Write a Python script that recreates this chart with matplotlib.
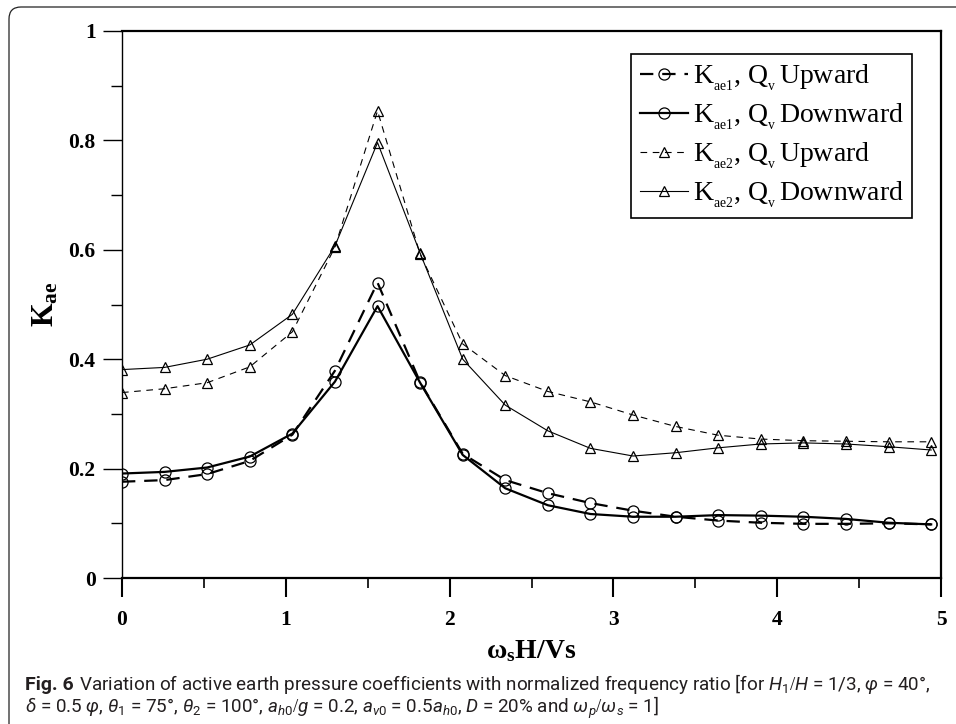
import matplotlib
matplotlib.use("Agg")
import matplotlib.pyplot as plt
from matplotlib.patches import FancyBboxPatch
from matplotlib.transforms import IdentityTransform

# data
freq_ratio = [0, 0.26, 0.52, 0.78, 1.04, 1.30, 1.56, 1.82, 2.08, 2.34,
              2.60, 2.86, 3.12, 3.38, 3.64, 3.90, 4.16, 4.42, 4.68, 4.94]
kae1_up = [0.176, 0.179, 0.190, 0.214, 0.262, 0.379, 0.540, 0.358, 0.227, 0.179,
           0.155, 0.137, 0.123, 0.112, 0.105, 0.101, 0.099, 0.099, 0.100, 0.098]
kae1_down = [0.191, 0.194, 0.202, 0.222, 0.264, 0.359, 0.497, 0.357, 0.225, 0.164,
             0.133, 0.117, 0.112, 0.112, 0.115, 0.114, 0.112, 0.108, 0.101, 0.098]
kae2_up = [0.339, 0.346, 0.357, 0.386, 0.450, 0.605, 0.854, 0.592, 0.428, 0.370,
           0.341, 0.322, 0.298, 0.277, 0.261, 0.254, 0.251, 0.250, 0.249, 0.249]
kae2_down = [0.381, 0.385, 0.400, 0.426, 0.482, 0.607, 0.796, 0.594, 0.400, 0.316,
             0.269, 0.237, 0.223, 0.229, 0.238, 0.245, 0.247, 0.245, 0.240, 0.234]

x_ticks = [0, 1, 2, 3, 4, 5]
y_ticks = [0, 0.2, 0.4, 0.6, 0.8, 1.0]
y_tick_labels = ["0", "0.2", "0.4", "0.6", "0.8", "1"]

# small subscripts, as in the original legend
series_labels = [
    r"$\mathrm{K}_{{}_{\mathrm{ae1}}}$, $\mathrm{Q}_{{}_{\mathrm{v}}}\!$ Upward",
    r"$\mathrm{K}_{{}_{\mathrm{ae1}}}$, $\mathrm{Q}_{{}_{\mathrm{v}}}\!$ Downward",
    r"$\mathrm{K}_{{}_{\mathrm{ae2}}}$, $\mathrm{Q}_{{}_{\mathrm{v}}}\!$ Upward",
    r"$\mathrm{K}_{{}_{\mathrm{ae2}}}$, $\mathrm{Q}_{{}_{\mathrm{v}}}\!$ Downward",
]

SERIF = ["Liberation Serif", "DejaVu Serif"]
CAP = ["Roboto", "DejaVu Sans"]

plt.rcParams["font.family"] = SERIF
plt.rcParams["mathtext.fontset"] = "custom"
plt.rcParams["mathtext.rm"] = "Liberation Serif"
plt.rcParams["mathtext.bf"] = "Liberation Serif:bold"
plt.rcParams["mathtext.it"] = "Roboto:italic"
plt.rcParams["mathtext.sf"] = "Roboto"

fig = plt.figure(figsize=(9.56, 7.24), dpi=100)
ax = fig.add_axes([122 / 956, 1 - 578 / 724, 819 / 956, 547 / 724])

ax.plot(freq_ratio, kae1_up, color="black", lw=1.6, dashes=(6, 4),
        marker="o", ms=8, mfc="none", mec="black", mew=0.9, label=series_labels[0])
ax.plot(freq_ratio, kae1_down, color="black", lw=1.6,
        marker="o", ms=8, mfc="none", mec="black", mew=0.9, label=series_labels[1])
ax.plot(freq_ratio, kae2_up, color="black", lw=0.8, dashes=(6, 5),
        marker="^", ms=7, mfc="none", mec="black", mew=0.9, label=series_labels[2])
ax.plot(freq_ratio, kae2_down, color="black", lw=0.8,
        marker="^", ms=7, mfc="none", mec="black", mew=0.9, label=series_labels[3])

ax.set_xlim(0, 5)
ax.set_ylim(0, 1)
ax.set_xticks(x_ticks)
ax.set_xticks([0.5, 1.5, 2.5, 3.5, 4.5], minor=True)
ax.set_yticks(y_ticks)
ax.set_yticklabels(y_tick_labels)
ax.set_yticks([0.1, 0.3, 0.5, 0.7, 0.9], minor=True)

for side in ["top", "bottom", "right"]:
    ax.spines[side].set_linewidth(1.6)
ax.spines["left"].set_linewidth(1.0)

ax.tick_params(axis="x", which="major", direction="out", length=14, width=1.5, pad=9)
ax.tick_params(axis="x", which="minor", direction="out", length=7.5, width=1.2)
ax.tick_params(axis="y", which="major", direction="out", length=14, width=1.0, pad=5)
ax.tick_params(axis="y", which="minor", direction="out", length=8, width=1.0)
for lab in ax.get_xticklabels() + ax.get_yticklabels():
    lab.set_fontsize(15.5)
    lab.set_fontweight("bold")

ax.set_xlabel(r"$\mathbf{\omega_{s}H/Vs}$", fontsize=20, labelpad=6)
ax.set_ylabel(r"$\mathbf{K_{ae}}$", fontsize=22, labelpad=6)

leg = ax.legend(loc="upper right", bbox_to_anchor=((912 - 122) / 819, (578 - 54) / 547),
                borderaxespad=0, fontsize=20, handlelength=1.75, handletextpad=0.15,
                labelspacing=0.3, borderpad=0.3, fancybox=False, framealpha=1)
leg.get_frame().set_edgecolor("black")
leg.get_frame().set_linewidth(1.2)

# frame round the whole figure
frame = FancyBboxPatch((9, -60), 1100, 717 + 60, boxstyle="round,pad=0,rounding_size=12",
                       transform=IdentityTransform(), fill=False, ec="#222222", lw=0.9)
fig.add_artist(frame)

cap_col = "#231f20"
fig.text(25 / 956, 1 - 690 / 724, "Fig. 6", family=CAP, fontweight="bold",
         fontsize=14, color=cap_col)
fig.text(79 / 956, 1 - 690 / 724,
         r"Variation of active earth pressure coefficients with normalized frequency ratio "
         r"[for $H_\mathsf{1}/H$ = 1/3, $\varphi$ = 40°,",
         family=CAP, fontsize=13.6, color=cap_col)
fig.text(25 / 956, 1 - 713 / 724,
         r"$\delta$ = 0.5 $\varphi$, $\theta_\mathsf{1}$ = 75°, $\theta_\mathsf{2}$ = 100°, "
         r"$a_{h\mathsf{0}}/g$ = 0.2, $a_{v\mathsf{0}}$ = 0.5$a_{h\mathsf{0}}$, $D$ = 20% and "
         r"$\omega_p/\omega_s$ = 1]",
         family=CAP, fontsize=13.6, color=cap_col)

fig.savefig("out.png", dpi=100)
